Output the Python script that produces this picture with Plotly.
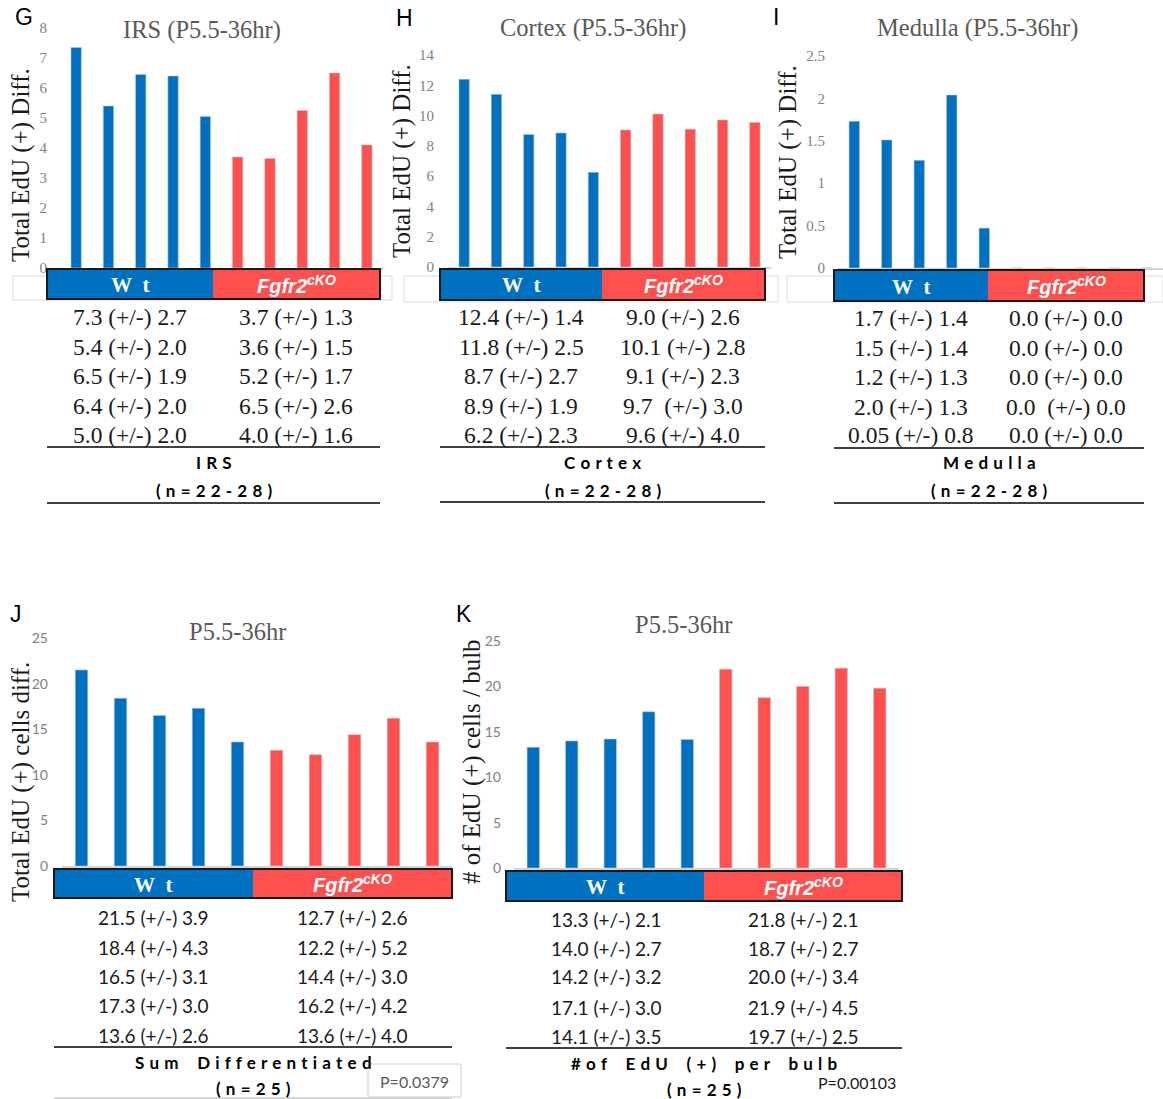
import plotly.graph_objects as go

W, H = 1163, 1099

# ---------------- data ----------------
g_wt = [7.35, 5.4, 6.45, 6.4, 5.05]
g_ko = [3.7, 3.65, 5.25, 6.5, 4.1]
h_wt = [12.4, 11.4, 8.75, 8.85, 6.25]
h_ko = [9.05, 10.1, 9.1, 9.7, 9.55]
i_wt = [1.73, 1.51, 1.27, 2.04, 0.47]
i_ko = [0.0, 0.0, 0.0, 0.0, 0.0]
j_wt = [21.5, 18.4, 16.5, 17.3, 13.6]
j_ko = [12.7, 12.2, 14.4, 16.2, 13.6]
k_wt = [13.3, 14.0, 14.2, 17.2, 14.15]
k_ko = [21.9, 18.75, 20.0, 22.0, 19.8]

NB = "\u00a0"
g_wt_txt = ["7.3 (+/-) 2.7", "5.4 (+/-) 2.0", "6.5 (+/-) 1.9", "6.4 (+/-) 2.0", "5.0 (+/-) 2.0"]
g_ko_txt = ["3.7 (+/-) 1.3", "3.6 (+/-) 1.5", "5.2 (+/-) 1.7", "6.5 (+/-) 2.6", "4.0 (+/-) 1.6"]
h_wt_txt = ["12.4 (+/-) 1.4", "11.8 (+/-) 2.5", "8.7 (+/-) 2.7", "8.9 (+/-) 1.9", "6.2 (+/-) 2.3"]
h_ko_txt = ["9.0 (+/-) 2.6", "10.1 (+/-) 2.8", "9.1 (+/-) 2.3", "9.7" + NB + " (+/-) 3.0", "9.6 (+/-) 4.0"]
i_wt_txt = ["1.7 (+/-) 1.4", "1.5 (+/-) 1.4", "1.2 (+/-) 1.3", "2.0 (+/-) 1.3", "0.05 (+/-) 0.8"]
i_ko_txt = ["0.0 (+/-) 0.0", "0.0 (+/-) 0.0", "0.0 (+/-) 0.0", "0.0" + NB + " (+/-) 0.0", "0.0 (+/-) 0.0"]
j_wt_txt = ["21.5 (+/-) 3.9", "18.4 (+/-) 4.3", "16.5 (+/-) 3.1", "17.3 (+/-) 3.0", "13.6 (+/-) 2.6"]
j_ko_txt = ["12.7 (+/-) 2.6", "12.2 (+/-) 5.2", "14.4 (+/-) 3.0", "16.2 (+/-) 4.2", "13.6 (+/-) 4.0"]
k_wt_txt = ["13.3 (+/-) 2.1", "14.0 (+/-) 2.7", "14.2 (+/-) 3.2", "17.1 (+/-) 3.0", "14.1 (+/-) 3.5"]
k_ko_txt = ["21.8 (+/-) 2.1", "18.7 (+/-) 2.7", "20.0 (+/-) 3.4", "21.9 (+/-) 4.5", "19.7 (+/-) 2.5"]

titles = ["IRS (P5.5-36hr)", "Cortex (P5.5-36hr)", "Medulla (P5.5-36hr)", "P5.5-36hr", "P5.5-36hr"]
ytitles = ["Total EdU (+) Diff.", "Total EdU (+) Diff.", "Total EdU (+) Diff.",
           "Total EdU (+) cells diff.", "# of EdU (+) cells / bulb"]
letters = ["G", "H", "I", "J", "K"]
names = ["IRS", "Cortex", "Medulla", "Sum Differentiated", "#of EdU (+) per bulb"]
ns = ["(n=22-28)", "(n=22-28)", "(n=22-28)", "(n=25)", "(n=25)"]
pvals = [None, None, None, "P=0.0379", "P=0.00103"]
y_ticks = [[0, 1, 2, 3, 4, 5, 6, 7, 8], [0, 2, 4, 6, 8, 10, 12, 14],
           [0, 0.5, 1, 1.5, 2, 2.5], [0, 5, 10, 15, 20, 25], [0, 5, 10, 15, 20, 25]]
y_ticktext = [["0", "1", "2", "3", "4", "5", "6", "7", "8"], ["0", "2", "4", "6", "8", "10", "12", "14"],
              ["0", "0.5", "1", "1.5", "2", "2.5"], ["0", "5", "10", "15", "20", "25"],
              ["0", "5", "10", "15", "20", "25"]]
wt_vals = [g_wt, h_wt, i_wt, j_wt, k_wt]
ko_vals = [g_ko, h_ko, i_ko, j_ko, k_ko]
wt_txts = [g_wt_txt, h_wt_txt, i_wt_txt, j_wt_txt, k_wt_txt]
ko_txts = [g_ko_txt, h_ko_txt, i_ko_txt, j_ko_txt, k_ko_txt]

# ---------------- layout geometry (pixels) ----------------
geo = [
    dict(xd=(60, 383), y0=268, y1=28, ymax=8, serif=True, title=(202, 30), ytit=(21, 165), letter=(24, 17),
         bar=(47, 213, 380, 269, 299), ghost=(13, 392, 276, 300), standoff=12,
         cols=(130, 296), rows=[317, 346.5, 376, 405.5, 435], line1=447, nm=463, nn=491, line2=503),
    dict(xd=(448, 771), y0=267, y1=55, ymax=14, serif=True, title=(593, 28), ytit=(402, 161), letter=(404, 18),
         bar=(440, 602, 765, 269, 300), ghost=(404, 778, 276, 302), standoff=13,
         cols=(521, 683), rows=[317, 346.5, 376, 405.5, 435], line1=447, nm=463, nn=491, line2=502),
    dict(xd=(838, 1163), y0=268, y1=56, ymax=2.5, serif=True, title=(977, 28), ytit=(788, 162), letter=(776, 17),
         bar=(834, 988, 1144, 270, 301), ghost=(787, 1163, 276, 302), standoff=12,
         cols=(911, 1066), rows=[318, 347.5, 377, 406.5, 435], line1=448, nm=463, nn=491, line2=503),
    dict(xd=(62, 452), y0=866, y1=638, ymax=25, serif=False, title=(237, 631), ytit=(21, 782), letter=(16, 614),
         bar=(54, 253, 452, 869, 898), ghost=None, standoff=13,
         cols=(153, 352), rows=[917, 947, 976, 1005, 1035], line1=1047, nm=1062, nn=1088, line2=1098),
    dict(xd=(514, 899), y0=868, y1=641, ymax=25, serif=False, title=(683, 624), ytit=(472, 762), letter=(464, 614),
         bar=(506, 704, 902, 871, 901), ghost=None, standoff=12,
         cols=(606, 804), rows=[919, 948, 977, 1007, 1036], line1=1048, nm=1063, nn=1089, line2=None),
]


def fx(p):
    return p / W


def fy(p):
    return 1 - p / H


BLUE = "#0070C0"
RED = "#FF5050"
SERIF = "Liberation Serif"
SANS = "Lato"

fig = go.Figure()
shapes = []
annots = []
layout_axes = {}

GAP = NB + "\u200a"


def spaced(s, gap=GAP):
    out = []
    for ch in s:
        if ch == " ":
            out.append(NB * 2)
        else:
            out.append(ch)
    return gap.join(out)


for k in range(5):
    g = geo[k]
    xa = "x" if k == 0 else f"x{k+1}"
    ya = "y" if k == 0 else f"y{k+1}"
    xname = "xaxis" if k == 0 else f"xaxis{k+1}"
    yname = "yaxis" if k == 0 else f"yaxis{k+1}"

    fig.add_trace(go.Bar(x=list(range(5)), y=wt_vals[k], xaxis=xa, yaxis=ya, width=0.32,
                         marker=dict(color=BLUE, line=dict(color="#c0c0c0", width=0.6)),
                         showlegend=False, hoverinfo="skip"))
    fig.add_trace(go.Bar(x=list(range(5, 10)), y=ko_vals[k], xaxis=xa, yaxis=ya, width=0.32,
                         marker=dict(color=RED, line=dict(color="#c0c0c0", width=0.6)),
                         showlegend=False, hoverinfo="skip"))

    tickfam = SERIF if g["serif"] else SANS
    layout_axes[xname] = dict(domain=[fx(g["xd"][0]), fx(g["xd"][1])], range=[-0.5, 9.5],
                              showticklabels=False, showgrid=False, zeroline=False,
                              showline=True, linecolor="#d4d4d4", linewidth=2, ticks="",
                              anchor=ya, fixedrange=True, automargin=False)
    layout_axes[yname] = dict(domain=[fy(g["y0"]), fy(g["y1"])], range=[0, g["ymax"]],
                              tickvals=y_ticks[k], ticktext=y_ticktext[k],
                              showgrid=False, zeroline=False, showline=False, ticks="",
                              tickfont=dict(family=tickfam, size=15 if g["serif"] else 14, color="#808080"),
                              ticklabelstandoff=g["standoff"], anchor=xa, fixedrange=True, automargin=False)

    # ghost boxes
    if g["ghost"]:
        x0, x1, y0, y1 = g["ghost"]
        shapes.append(dict(type="rect", xref="paper", yref="paper", x0=fx(x0), x1=fx(x1), y0=fy(y1), y1=fy(y0),
                           line=dict(color="#dcdcdc", width=1), fillcolor="rgba(0,0,0,0)", layer="below"))
    # label bar
    bx0, bxm, bx1, by0, by1 = g["bar"]
    shapes.append(dict(type="rect", xref="paper", yref="paper", x0=fx(bx0), x1=fx(bxm), y0=fy(by1), y1=fy(by0),
                       fillcolor=BLUE, line=dict(width=0)))
    shapes.append(dict(type="rect", xref="paper", yref="paper", x0=fx(bxm), x1=fx(bx1), y0=fy(by1), y1=fy(by0),
                       fillcolor=RED, line=dict(width=0)))
    shapes.append(dict(type="rect", xref="paper", yref="paper", x0=fx(bx0), x1=fx(bx1), y0=fy(by1), y1=fy(by0),
                       fillcolor="rgba(0,0,0,0)", line=dict(color="#1a1a1a", width=2)))
    ymid = (by0 + by1) / 2
    annots.append(dict(text="<b>W\u2002t</b>", x=fx((bx0 + bxm) / 2), y=fy(ymid + 1),
                       font=dict(family=SERIF, size=21, color="white")))
    annots.append(dict(text="<b><i>Fgfr2<sup>cKO</sup></i></b>", x=fx((bxm + bx1) / 2), y=fy(ymid),
                       font=dict(family="Liberation Sans", size=20, color="white")))

    # titles
    annots.append(dict(text=titles[k], x=fx(g["title"][0]), y=fy(g["title"][1]),
                       font=dict(family=SERIF, size=24.5, color="#595959")))
    annots.append(dict(text=ytitles[k], x=fx(g["ytit"][0]), y=fy(g["ytit"][1]), textangle=-90,
                       font=dict(family=SERIF, size=25, color="#1a1a1a")))
    annots.append(dict(text=letters[k], x=fx(g["letter"][0]), y=fy(g["letter"][1]),
                       font=dict(family="Liberation Sans", size=23, color="black")))

    # table
    tfam = SERIF if g["serif"] else SANS
    tsize = 23.5 if g["serif"] else 19
    for r in range(5):
        annots.append(dict(text=wt_txts[k][r], x=fx(g["cols"][0]), y=fy(g["rows"][r]),
                           font=dict(family=tfam, size=tsize, color="#1a1a1a")))
        annots.append(dict(text=ko_txts[k][r], x=fx(g["cols"][1]), y=fy(g["rows"][r]),
                           font=dict(family=tfam, size=tsize, color="#1a1a1a")))
    shapes.append(dict(type="line", xref="paper", yref="paper", x0=fx(bx0), x1=fx(bx1),
                       y0=fy(g["line1"]), y1=fy(g["line1"]), line=dict(color="#404040", width=2)))
    if g["line2"]:
        lc = "#404040" if g["serif"] else "#b0b0b0"
        shapes.append(dict(type="line", xref="paper", yref="paper", x0=fx(bx0), x1=fx(bx1),
                           y0=fy(g["line2"]), y1=fy(g["line2"]), line=dict(color=lc, width=2 if g["serif"] else 1)))
    cx = (bx0 + bx1) / 2
    annots.append(dict(text="<b>" + spaced(names[k]) + "</b>", x=fx(cx), y=fy(g["nm"]),
                       font=dict(family=SANS, size=17, color="black")))
    annots.append(dict(text="<b>" + spaced(ns[k]) + "</b>", x=fx(cx), y=fy(g["nn"]),
                       font=dict(family=SANS, size=17, color="black")))

# p-values
shapes.append(dict(type="rect", xref="paper", yref="paper", x0=fx(368), x1=fx(461), y0=fy(1097), y1=fy(1064),
                   line=dict(color="#cfcfcf", width=1), fillcolor="white"))
annots.append(dict(text=pvals[3], x=fx(414.5), y=fy(1081), font=dict(family=SANS, size=16, color="#595959")))
annots.append(dict(text=pvals[4], x=fx(857), y=fy(1082), font=dict(family=SANS, size=16, color="#1a1a1a")))

for a in annots:
    a.update(xref="paper", yref="paper", showarrow=False, xanchor="center", yanchor="middle")

fig.update_layout(width=W, height=H, autosize=False, margin=dict(l=0, r=0, t=0, b=0, pad=0, autoexpand=False),
                  paper_bgcolor="white", plot_bgcolor="white", barmode="overlay",
                  shapes=shapes, annotations=annots, **layout_axes)

fig.write_html("out.html", config={"displayModeBar": False},
               post_script="document.body.style.margin='0';document.body.style.overflow='hidden';")
